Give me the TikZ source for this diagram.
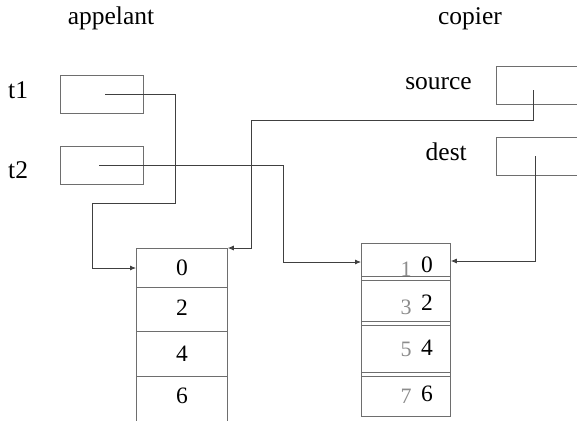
\documentclass[tikz,border=0pt]{standalone}
\usepackage{fontspec}
\setmainfont{Liberation Serif}
\usetikzlibrary{arrows.meta}
\definecolor{boxgray}{HTML}{6E6E6E}
\definecolor{linegray}{HTML}{404040}
\definecolor{oldval}{HTML}{8C8C8C}
\begin{document}
\begin{tikzpicture}[x=1pt,y=-1pt,
  lbl/.style={font=\fontsize{25.5}{30}\selectfont, inner sep=0pt},
  digit/.style={font=\fontsize{23.5}{28}\selectfont, inner sep=0pt},
  olddigit/.style={font=\fontsize{22}{26}\selectfont, inner sep=0pt, text=oldval},
  ptrbox/.style={draw=boxgray, line width=0.8pt, inner sep=0pt, anchor=north west,
    minimum width=83pt, minimum height=38pt},
  cellbox/.style={draw=boxgray, line width=0.8pt, inner sep=0pt, anchor=north west,
    minimum width=90pt},
  sep/.style={draw=boxgray, line width=0.8pt},
  link/.style={draw=linegray, line width=0.8pt},
  arrow/.style={link, -{Latex[length=6pt,width=5pt]}}]

\useasboundingbox (0,0) rectangle (577,420);
\clip (0,0) rectangle (577,420);

% column headings
\node[lbl, anchor=base] (hcaller) at (111,25) {appelant};
\node[lbl, anchor=base] (hcopier) at (470,25) {copier};

% caller's pointer variables
\node[lbl, anchor=base west] (lt1) at (8,98) {t1};
\node[lbl, anchor=base west] (lt2) at (8,178) {t2};
\node[ptrbox] (t1box) at (60,75) {};
\node[ptrbox] (t2box) at (60,146) {};

% copier's pointer parameters
\node[lbl, anchor=base east] (lsrc) at (472,89) {source};
\node[lbl, anchor=base east] (ldst) at (467,160) {dest};
\node[ptrbox, minimum width=110pt] (srcbox) at (496,66) {};
\node[ptrbox, minimum width=110pt] (dstbox) at (496,137) {};

% first array: 0 2 4 6
\node[cellbox, minimum width=91pt, minimum height=39pt] (a0) at (136,248) {};
\node[cellbox, minimum width=91pt, minimum height=44pt] (a1) at (136,287) {};
\node[cellbox, minimum width=91pt, minimum height=45pt] (a2) at (136,331) {};
\node[cellbox, minimum width=91pt, minimum height=60pt] (a3) at (136,376) {};
\node[digit] (v0) at (182,267.5) {0};
\node[digit] (v1) at (182,307.5) {2};
\node[digit] (v2) at (182,354) {4};
\node[digit] (v3) at (182,395.5) {6};

% second array: old values 1 3 5 7 overwritten by 0 2 4 6
\node[cellbox, minimum width=89pt, minimum height=173pt] (b) at (361,243) {};
\draw[sep] (b.west |- 0,276) -- (b.east |- 0,276);
\draw[sep] (b.west |- 0,280) -- (b.east |- 0,280);
\draw[sep] (b.west |- 0,321) -- (b.east |- 0,321);
\draw[sep] (b.west |- 0,325) -- (b.east |- 0,325);
\draw[sep] (b.west |- 0,372) -- (b.east |- 0,372);
\draw[sep] (b.west |- 0,376) -- (b.east |- 0,376);
\node[olddigit] (o0) at (406,269) {1};
\node[olddigit] (o1) at (406,307) {3};
\node[olddigit] (o2) at (406,349.5) {5};
\node[olddigit] (o3) at (406,396.5) {7};
\node[digit] (w0) at (427,264.5) {0};
\node[digit] (w1) at (427,302.5) {2};
\node[digit] (w2) at (427,348) {4};
\node[digit] (w3) at (427,393.5) {6};

% pointer origins inside the boxes
\coordinate (t1p) at (105,94);
\coordinate (t2p) at (99,165);
\coordinate (srcp) at (533,90);
\coordinate (dstp) at (535,156);

% connectors
\draw[arrow] (t1p) -- (175,94) -- (175,203) -- (92,203) -- (92,268) -- (a0.west |- 0,268);
\draw[arrow] (t2p) -- (283,165) -- (283,262) -- (b.west |- 0,262);
\draw[arrow] (srcp) -- (533,120) -- (251,120) -- (251,248) -- (a0.north east);
\draw[arrow] (dstp) -- (535,261) -- (b.east |- 0,261);
\end{tikzpicture}
\end{document}
